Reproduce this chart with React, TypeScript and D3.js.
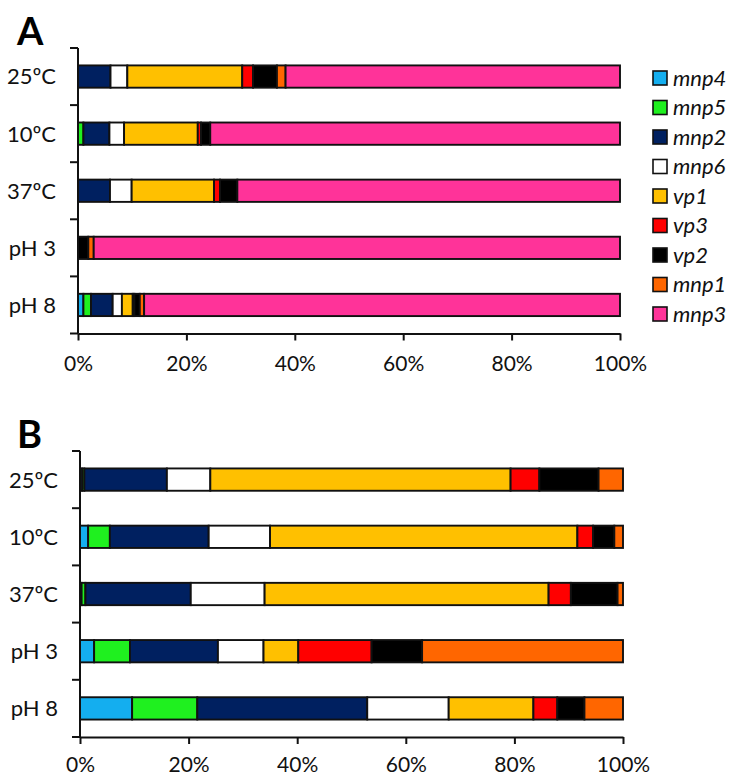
import React, { useRef, useEffect } from "react"
import * as d3 from "d3"

// conditions on the y axis, top to bottom
const categories = ["25ºC", "10ºC", "37ºC", "pH 3", "pH 8"]
const seriesNames = ["mnp4", "mnp5", "mnp2", "mnp6", "vp1", "vp3", "vp2", "mnp1", "mnp3"]
const seriesColors = ["#14AEEF", "#1FF01F", "#002060", "#FFFFFF", "#FFC000", "#FF0000", "#000000", "#FF6600", "#FF3399"]
const xTicks = [0, 20, 40, 60, 80, 100]

// panel A, percent per condition (same order as categories)
const a_mnp4 = [0, 0, 0, 0, 1.0]
const a_mnp5 = [0, 1.0, 0, 0, 1.4]
const a_mnp2 = [6.0, 4.8, 5.9, 0, 4.0]
const a_mnp6 = [3.1, 2.7, 4.0, 0, 1.7]
const a_vp1 = [21.2, 13.6, 15.2, 0, 2.0]
const a_vp3 = [2.0, 0.6, 1.1, 0, 0.3]
const a_vp2 = [4.4, 1.7, 3.2, 1.9, 1.0]
const a_mnp1 = [1.6, 0, 0, 1.0, 0.8]
const a_mnp3 = [61.7, 75.6, 70.6, 97.1, 87.8]

// panel B
const b_mnp4 = [0.4, 1.5, 0.3, 2.6, 9.6]
const b_mnp5 = [0.4, 4.0, 0.7, 6.6, 12.0]
const b_mnp2 = [15.2, 18.2, 19.4, 16.2, 31.3]
const b_mnp6 = [8.0, 11.3, 13.6, 8.4, 15.0]
const b_vp1 = [55.3, 56.6, 52.3, 6.4, 15.6]
const b_vp3 = [5.3, 2.9, 4.1, 13.5, 4.4]
const b_vp2 = [10.9, 3.9, 8.6, 9.3, 5.0]
const b_mnp1 = [4.5, 1.6, 1.0, 37.0, 7.1]
const b_mnp3 = [0, 0, 0, 0, 0]

const panelA = [a_mnp4, a_mnp5, a_mnp2, a_mnp6, a_vp1, a_vp3, a_vp2, a_mnp1, a_mnp3]
const panelB = [b_mnp4, b_mnp5, b_mnp2, b_mnp6, b_vp1, b_vp3, b_vp2, b_mnp1, b_mnp3]

const FONT = "Lato, 'Open Sans', sans-serif"

function toRows(cols) {
  return categories.map((c, i) => {
    const row = { cat: c }
    seriesNames.forEach((k, j) => (row[k] = cols[j][i]))
    return row
  })
}

function drawPanel(svg, cols, letter, box) {
  const g = svg.append("g")
  const x = d3.scaleLinear().domain([0, 100]).range([box.x0, box.x1])
  const y = d3
    .scaleBand()
    .domain(categories)
    .range([box.y0, box.y1])
    .paddingInner(0.61)
    .paddingOuter(0.305)
  const color = d3.scaleOrdinal().domain(seriesNames).range(seriesColors)

  const series = d3.stack().keys(seriesNames)(toRows(cols))

  g.append("text")
    .attr("x", box.lx)
    .attr("y", box.ly)
    .attr("font-family", FONT)
    .attr("font-weight", "bold")
    .attr("font-size", 38)
    .text(letter)

  // bars
  g.selectAll("g.layer")
    .data(series)
    .join("g")
    .attr("class", "layer")
    .attr("fill", d => color(d.key))
    .selectAll("rect")
    .data(d => d.filter(s => s[1] - s[0] > 0))
    .join("rect")
    .attr("x", d => x(d[0]))
    .attr("y", d => y(d.data.cat))
    .attr("width", d => x(d[1]) - x(d[0]))
    .attr("height", y.bandwidth())
    .attr("stroke", "#111")
    .attr("stroke-width", 1.9)

  // y axis with boundary ticks
  const step = (box.y1 - box.y0) / categories.length
  g.append("line")
    .attr("x1", box.x0)
    .attr("x2", box.x0)
    .attr("y1", box.y0)
    .attr("y2", box.y1)
    .attr("stroke", "#111")
    .attr("stroke-width", 2)
  g.selectAll("line.yt")
    .data(d3.range(categories.length + 1))
    .join("line")
    .attr("class", "yt")
    .attr("x1", box.x0 - 8)
    .attr("x2", box.x0)
    .attr("y1", i => box.y0 + i * step)
    .attr("y2", i => box.y0 + i * step)
    .attr("stroke", "#111")
    .attr("stroke-width", 2)
  g.selectAll("text.yl")
    .data(categories)
    .join("text")
    .attr("class", "yl")
    .attr("x", box.x0 - 22)
    .attr("y", d => y(d) + y.bandwidth() / 2)
    .attr("dy", "0.36em")
    .attr("text-anchor", "end")
    .attr("font-family", FONT)
    .attr("font-size", 22)
    .attr("fill", "#111")
    .text(d => d)

  // x axis
  const ax = g
    .append("g")
    .attr("transform", `translate(0,${box.y1})`)
    .call(
      d3
        .axisBottom(x)
        .tickValues(xTicks)
        .tickFormat(d => d + "%")
        .tickSize(7)
        .tickSizeOuter(0)
        .tickPadding(box.pad)
    )
  ax.select(".domain").attr("stroke", "#111").attr("stroke-width", 2)
  ax.selectAll(".tick line").attr("stroke", "#111").attr("stroke-width", 2)
  ax.selectAll(".tick text")
    .attr("font-family", FONT)
    .attr("font-size", 21)
    .attr("fill", "#111")
}

function App() {
  const ref = useRef()

  useEffect(() => {
    const svg = d3.select(ref.current)
    svg.selectAll("*").remove()

    drawPanel(svg, panelA, "A", { x0: 78, x1: 620, y0: 48, y1: 333.5, lx: 17, ly: 45, pad: 16 })
    drawPanel(svg, panelB, "B", { x0: 80, x1: 623, y0: 451, y1: 737, lx: 17, ly: 448, pad: 13 })

    // legend
    const ly = d3.scalePoint().domain(seriesNames).range([78, 314])
    const leg = svg
      .append("g")
      .selectAll("g")
      .data(seriesNames)
      .join("g")
      .attr("transform", d => `translate(653,${ly(d)})`)
    leg.append("rect")
      .attr("x", 0)
      .attr("y", -7)
      .attr("width", 14)
      .attr("height", 14)
      .attr("fill", (d, i) => seriesColors[i])
      .attr("stroke", "#111")
      .attr("stroke-width", 1.6)
    leg.append("text")
      .attr("x", 20)
      .attr("y", 0)
      .attr("dy", "0.36em")
      .attr("font-family", FONT)
      .attr("font-style", "italic")
      .attr("font-size", 22)
      .attr("fill", "#111")
      .text(d => d)
  }, [])

  return (
    <svg
      ref={ref}
      width={730}
      height={775}
      style={{ position: "absolute", left: 0, top: 0, background: "#fff" }}
    ></svg>
  )
}

export default App
